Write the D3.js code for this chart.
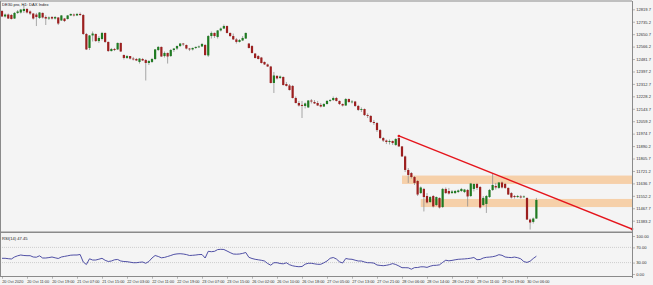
<!DOCTYPE html>
<html><head><meta charset="utf-8">
<script src="https://cdn.jsdelivr.net/npm/d3@7"></script>
<style>body{margin:0;background:#f4f4f4}svg{display:block}</style>
</head><body><svg id="c" width="653" height="285"></svg>
<script>
// ---- data (H1 candles, DE30 / DAX) ----
const opens=[12808,12771,12784,12781,12757,12795,12798,12808,12822,12805,
12791,12784,12761,12795,12767,12757,12767,12757,12764,12744,
12757,12754,12778,12784,12778,12788,12781,12652,12557,12642,
12652,12604,12618,12659,12598,12536,12550,12547,12591,12509,
12489,12502,12485,12482,12462,12482,12475,12455,12462,12482,
12543,12564,12502,12523,12502,12543,12553,12570,12587,12577,
12553,12547,12557,12564,12567,12577,12506,12638,12659,12632,
12676,12689,12706,12659,12638,12615,12598,12608,12621,12587,
12570,12519,12502,12492,12462,12445,12431,12319,12367,12353,
12360,12312,12302,12299,12217,12183,12170,12163,12153,12200,
12190,12183,12170,12159,12176,12197,12203,12217,12197,12176,
12166,12210,12190,12193,12163,12136,12142,12101,12095,12054,
12047,11999,11945,11928,11918,11925,11898,11945,11888,11820,
11728,11707,11680,11653,11571,11599,11551,11510,11551,11490,
11538,11476,11599,11585,11571,11571,11578,11585,11578,11592,
11551,11599,11633,11612,11490,11497,11544,11592,11619,11606,
11643,11633,11606,11571,11551,11544,11548,11544,11538,11391,
11375,11398];
const highs=[12815,12791,12791,12788,12801,12815,12822,12849,12829,12812,
12795,12795,12801,12798,12778,12771,12774,12774,12767,12781,
12761,12781,12791,12791,12795,12798,12788,12659,12645,12669,
12655,12638,12666,12662,12601,12557,12557,12594,12594,12513,
12509,12502,12496,12489,12489,12489,12482,12475,12489,12550,
12570,12567,12533,12526,12550,12557,12574,12591,12591,12581,
12557,12560,12567,12574,12591,12584,12645,12669,12662,12679,
12696,12716,12710,12662,12655,12625,12618,12638,12662,12591,
12577,12523,12509,12496,12465,12451,12435,12394,12373,12370,
12363,12326,12312,12305,12227,12197,12197,12186,12203,12210,
12203,12197,12183,12183,12203,12210,12227,12224,12200,12180,
12217,12214,12203,12197,12170,12153,12146,12112,12101,12068,
12054,12006,11952,11935,11935,11928,11945,11959,11891,11826,
11741,11714,11687,11660,11616,11606,11571,11551,11558,11548,
11541,11606,11609,11606,11592,11592,11595,11606,11599,11599,
11640,11636,11640,11619,11551,11558,11599,11707,11640,11646,
11650,11640,11609,11578,11558,11558,11558,11555,11541,11398,
11405,11538];
const lows=[12767,12764,12754,12750,12754,12788,12791,12795,12791,12781,
12750,12706,12754,12757,12713,12747,12750,12750,12713,12740,
12733,12750,12774,12771,12774,12774,12645,12543,12543,12601,
12598,12591,12608,12591,12530,12533,12536,12543,12530,12479,
12482,12479,12472,12468,12451,12468,12336,12441,12455,12475,
12536,12496,12492,12451,12496,12530,12543,12564,12570,12547,
12536,12540,12550,12557,12564,12502,12496,12621,12625,12621,
12669,12686,12655,12632,12611,12587,12594,12604,12618,12553,
12519,12485,12479,12451,12441,12428,12316,12251,12343,12346,
12302,12295,12268,12214,12180,12159,12081,12146,12149,12180,
12176,12163,12153,12156,12173,12190,12197,12193,12170,12159,
12163,12183,12180,12156,12129,12122,12095,12081,12047,12034,
11986,11938,11918,11904,11901,11898,11891,11884,11816,11714,
11640,11670,11626,11551,11565,11446,11500,11504,11473,11483,
11466,11470,11565,11561,11565,11565,11571,11578,11571,11480,
11544,11582,11592,11466,11483,11436,11538,11585,11595,11599,
11602,11599,11558,11534,11534,11538,11534,11538,11388,11323,
11364,11395];
const closes=[12771,12784,12757,12754,12795,12805,12818,12822,12798,12791,
12757,12767,12798,12764,12757,12764,12757,12767,12723,12778,
12740,12778,12788,12778,12788,12781,12652,12547,12642,12655,
12604,12625,12659,12598,12536,12550,12543,12591,12533,12489,
12502,12485,12479,12472,12485,12472,12455,12468,12482,12547,
12564,12499,12523,12499,12543,12553,12570,12587,12581,12553,
12547,12557,12564,12567,12584,12509,12638,12659,12638,12676,
12689,12706,12659,12638,12615,12598,12611,12625,12659,12557,
12523,12489,12482,12455,12445,12431,12319,12370,12350,12363,
12305,12299,12271,12217,12183,12166,12163,12180,12200,12193,
12180,12166,12159,12176,12197,12203,12217,12197,12176,12166,
12210,12190,12193,12163,12136,12142,12101,12095,12054,12047,
11999,11945,11928,11918,11925,11911,11938,11888,11820,11728,
11694,11680,11640,11561,11609,11544,11507,11544,11480,11544,
11473,11599,11571,11568,11582,11585,11589,11599,11595,11548,
11636,11633,11606,11473,11538,11551,11592,11626,11609,11643,
11609,11606,11561,11541,11544,11551,11541,11548,11391,11371,
11398,11524];
const rsi=[41.3,41.3,40.3,39.5,44.7,47.9,50.0,48.7,48.2,48.2,
44.7,44.2,47.9,42.1,42.1,43.2,44.7,42.6,40.8,44.7,
46.3,47.9,49.5,50.0,50.0,51.3,31.6,25.0,40.0,36.8,
36.8,38.9,41.3,36.1,32.9,34.2,37.4,38.2,34.2,32.9,
32.4,31.1,29.7,29.7,30.8,31.6,28.2,32.9,42.1,48.7,
46.1,42.6,43.7,46.1,48.7,51.6,52.9,53.4,52.6,51.1,
48.7,49.2,50.0,51.1,51.3,42.1,59.7,58.7,59.7,64.2,
65.0,64.5,60.5,56.3,52.6,52.1,52.6,54.2,56.6,43.9,
40.8,38.7,37.4,36.1,34.2,27.6,23.2,29.7,29.7,27.6,
26.8,29.5,24.5,21.6,20.0,19.2,19.7,25.8,28.2,28.2,
26.8,25.5,25.5,29.5,34.2,41.3,43.4,39.5,32.1,28.9,
40.8,39.2,38.7,36.3,34.2,34.2,31.6,29.7,29.7,28.7,
23.7,22.6,21.8,22.9,24.7,27.4,25.0,21.1,16.6,16.6,
16.3,12.6,16.8,17.1,18.9,18.9,17.4,20.5,22.6,22.9,
24.2,30.5,36.3,34.7,35.8,37.4,38.7,39.2,39.7,40.5,
41.6,43.4,37.6,38.2,42.1,43.9,44.5,45.5,47.4,50.8,
49.2,44.7,43.7,43.2,44.5,42.9,40.0,32.6,30.5,33.7,
40.8,46.8];
const priceTicks=[12819.7,12735.2,12650.7,12566.2,12481.7,12397.2,12312.7,12228.2,12143.7,
12059.2,11974.7,11890.2,11805.7,11721.2,11636.7,11552.2,11467.7,11383.2];
const rsiTicks=[100,70,30,0];
const rsiLevels=[70,30];
const timeLabels=["20 Oct 2020","20 Oct 11:00","20 Oct 19:00","21 Oct 07:00","21 Oct 15:00",
"22 Oct 03:00","22 Oct 11:00","22 Oct 19:00","23 Oct 07:00","23 Oct 15:00","26 Oct 02:00",
"26 Oct 10:00","26 Oct 18:00","27 Oct 05:00","27 Oct 13:00","27 Oct 21:00","28 Oct 06:00",
"28 Oct 14:00","28 Oct 22:00","29 Oct 11:00","29 Oct 19:00","30 Oct 06:00"];
const barsPerLabel=8;
const zoneFrom=[128,134], zoneTop=[11690,11531], zoneBottom=[11633,11476];
const trendBars=[127,201.6], trendPrices=[11959,11326];
const title="DE30.pro, H1: DAX Index";
const rsiTitle="RSI(14) 47.45";

// ---- layout ----
const plotR=632, mainTop=1, mainBot=232, rsiTop=233.5, rsiBot=276;
const svg=d3.select("#c");
const n=closes.length;
const x=d3.scaleLinear().domain([0,n-1]).range([2,2+(n-1)*3.125]);
const y=d3.scaleLinear().domain([11383.2,12819.7]).range([220.7,9.3]);
const yr=d3.scaleLinear().domain([0,100]).range([274,236]);
const FONT="'Liberation Sans', Arial, sans-serif";

svg.append("rect").attr("width",653).attr("height",285).attr("fill","#f4f4f4");
const defs=svg.append("defs");
defs.append("clipPath").attr("id","cm").append("rect").attr("x",0).attr("y",mainTop).attr("width",plotR).attr("height",mainBot-mainTop);
defs.append("clipPath").attr("id","cr").append("rect").attr("x",0).attr("y",rsiTop).attr("width",plotR).attr("height",rsiBot-rsiTop);
defs.append("filter").attr("id","soft").attr("x","-5%").attr("y","-50%").attr("width","110%").attr("height","200%")
  .append("feGaussianBlur").attr("stdDeviation",0.7);

const main=svg.append("g").attr("clip-path","url(#cm)");
// zones
main.append("g").attr("filter","url(#soft)").selectAll("rect").data(zoneFrom).join("rect")
  .attr("x",(d)=>x(d)).attr("width",(d)=>plotR-x(d)+2)
  .attr("y",(d,i)=>y(zoneTop[i])).attr("height",(d,i)=>y(zoneBottom[i])-y(zoneTop[i]))
  .attr("fill","#f7c99c").attr("opacity",0.85);
// candles
const idx=d3.range(n);
main.append("g").selectAll("line").data(idx).join("line")
  .attr("x1",i=>x(i)).attr("x2",i=>x(i)).attr("y1",i=>y(highs[i])).attr("y2",i=>y(lows[i]))
  .attr("stroke","#8c8c8c").attr("stroke-width",0.75);
main.append("g").selectAll("rect").data(idx).join("rect")
  .attr("x",i=>x(i)-1.1).attr("width",2.2)
  .attr("y",i=>y(Math.max(opens[i],closes[i])))
  .attr("height",i=>Math.max(0.8,Math.abs(y(opens[i])-y(closes[i]))))
  .attr("fill",i=>closes[i]>=opens[i]?"#1f7a22":"#9c1f1f");
// trend line
const tl=trendBars.map((b,i)=>[x(b),y(trendPrices[i])]);
main.append("line").attr("x1",tl[0][0]).attr("y1",tl[0][1]).attr("x2",tl[1][0]).attr("y2",tl[1][1])
  .attr("stroke","#e5151c").attr("stroke-width",1.4);
svg.append("g").selectAll("circle").data(tl).join("circle")
  .attr("cx",d=>d[0]).attr("cy",d=>d[1]).attr("r",1.3).attr("fill","#e5151c");

// RSI
const rg=svg.append("g").attr("clip-path","url(#cr)");
rg.selectAll("line").data(rsiLevels).join("line")
  .attr("x1",0).attr("x2",plotR).attr("y1",d=>yr(d)).attr("y2",d=>yr(d))
  .attr("stroke","#b4b4b4").attr("stroke-width",0.6).attr("stroke-dasharray","1,1");
rg.append("path").datum(rsi).attr("fill","none").attr("stroke","#3d3d9c").attr("stroke-width",0.9)
  .attr("d",d3.line().x((d,i)=>x(i)).y(d=>yr(d)));

// frame
const fr=svg.append("g").attr("stroke","#8a8a8a").attr("fill","none");
fr.append("line").attr("x1",0).attr("x2",plotR).attr("y1",1).attr("y2",1).attr("stroke-width",1.2);
fr.append("line").attr("x1",0.5).attr("x2",0.5).attr("y1",1).attr("y2",rsiBot);
fr.append("line").attr("x1",0).attr("x2",plotR).attr("y1",mainBot+0.3).attr("y2",mainBot+0.3).attr("stroke-width",1.4);
fr.append("line").attr("x1",0).attr("x2",plotR).attr("y1",rsiBot+0.5).attr("y2",rsiBot+0.5);
fr.append("line").attr("x1",plotR+0.5).attr("x2",plotR+0.5).attr("y1",1).attr("y2",rsiBot+2);

function styleAxis(g,fs){
  g.select(".domain").remove();
  g.selectAll(".tick line").attr("stroke","#777").attr("stroke-width",0.5);
  g.selectAll(".tick text").attr("font-size",fs).attr("font-family",FONT).attr("fill","#333");
}
svg.append("g").attr("transform",`translate(${plotR+0.5},0)`)
  .call(d3.axisRight(y).tickValues(priceTicks).tickSize(2.5).tickPadding(1.2).tickFormat(d3.format(".1f")))
  .call(g=>styleAxis(g,4.1));
svg.append("g").attr("transform",`translate(${plotR+0.5},0)`)
  .call(d3.axisRight(yr).tickValues(rsiTicks).tickSize(2.5).tickPadding(1.2).tickFormat(d3.format(".2f")))
  .call(g=>styleAxis(g,4.1));
svg.append("g").attr("transform",`translate(0,${rsiBot+0.5})`)
  .call(d3.axisBottom(x).tickValues(timeLabels.map((t,k)=>k*barsPerLabel)).tickSize(2.2).tickPadding(1.2)
    .tickFormat((d,k)=>timeLabels[k]))
  .call(g=>{styleAxis(g,3.9); g.selectAll(".tick text").attr("text-anchor","start").attr("x",-0.3);});

svg.append("text").attr("x",2).attr("y",6).attr("font-size",4.1).attr("font-family",FONT).attr("fill","#222").text(title);
svg.append("text").attr("x",2).attr("y",239.5).attr("font-size",4.1).attr("font-family",FONT).attr("fill","#222").text(rsiTitle);
</script></body></html>
